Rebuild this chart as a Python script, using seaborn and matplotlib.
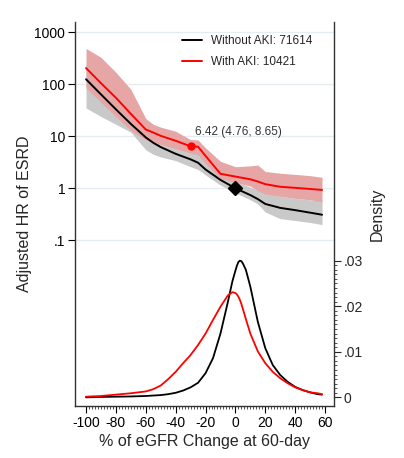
import numpy as np
import pandas as pd
import seaborn as sns
import matplotlib
matplotlib.use("Agg")
import matplotlib.pyplot as plt
from matplotlib.ticker import FixedLocator
from matplotlib.lines import Line2D

# hazard ratio curves
hr_x = [-100, -90, -80, -70, -60, -55, -50, -40, -30, -25, -20, -10, 0, 10, 15, 20, 30, 40, 50, 58]
hr_no_aki = [125, 64, 33, 17.3, 9.5, 7.5, 6.2, 4.6, 3.6, 3.1, 2.3, 1.45, 1.0, 0.74, 0.62, 0.5, 0.42, 0.38, 0.34, 0.31]
hr_no_aki_lo = [35, 24, 17, 12, 5.5, 4.5, 4.0, 3.4, 2.6, 2.3, 1.8, 1.15, 0.82, 0.6, 0.5, 0.35, 0.26, 0.24, 0.22, 0.2]
hr_no_aki_hi = [250, 130, 65, 33, 15, 11, 9, 6.5, 5.0, 4.5, 3.5, 2.0, 1.35, 1.05, 0.92, 0.82, 0.7, 0.64, 0.6, 0.57]
hr_aki = [205, 105, 55, 27, 13.5, 11.8, 10.2, 8.2, 6.42, 6.3, 4.2, 1.9, 1.68, 1.49, 1.35, 1.2, 1.07, 1.02, 0.97, 0.93]
hr_aki_lo = [85, 45, 24, 13, 8.5, 7.5, 7.0, 5.8, 4.76, 4.4, 3.0, 1.55, 1.3, 1.1, 0.9, 0.78, 0.7, 0.64, 0.6, 0.55]
hr_aki_hi = [490, 330, 170, 80, 22, 17, 15, 12.5, 8.65, 8.5, 6.0, 3.3, 2.6, 2.7, 2.8, 2.1, 1.95, 1.85, 1.75, 1.63]

# density of eGFR change
dens_x = [-100, -90, -80, -70, -60, -55, -50, -45, -40, -35, -30, -25, -20, -15, -10, -5, -2, 0, 1, 2, 3, 4, 5, 7,
          10, 15, 20, 25, 30, 35, 40, 45, 50, 55, 58]
dens_no_aki = [0.0, 0.0001, 0.00015, 0.0002, 0.0003, 0.0004, 0.0005, 0.0007, 0.001, 0.0015, 0.0022, 0.0032, 0.0053, 0.0086,
               0.014, 0.021, 0.0255, 0.0278, 0.0289, 0.0297, 0.030, 0.0299, 0.0294, 0.028,
               0.0243, 0.0166, 0.0108, 0.0071, 0.0049, 0.0034, 0.0023, 0.0016, 0.0011, 0.0007, 0.0006]
dens_aki = [0.00015, 0.0003, 0.0006, 0.0009, 0.0013, 0.0018, 0.0026, 0.004, 0.0056, 0.0075, 0.0093, 0.0115, 0.014, 0.017,
            0.0199, 0.0224, 0.0231, 0.0229, 0.0226, 0.0221, 0.0214, 0.0205, 0.0194, 0.0172,
            0.014, 0.0101, 0.0075, 0.0056, 0.0042, 0.0031, 0.0022, 0.0016, 0.0011, 0.0009, 0.0007]

labels = ["Without AKI: 71614", "With AKI: 10421"]
hr_ticks = [0.1, 1, 10, 100, 1000]
hr_ticklabels = [".1", "1", "10", "100", "1000"]
dens_ticks = [0, 0.01, 0.02, 0.03]
dens_ticklabels = ["0", ".01", ".02", ".03"]
x_ticks = [-100, -80, -60, -40, -20, 0, 20, 40, 60]

sns.set_style("white")
plt.rcParams['font.family'] = ['Liberation Sans', 'DejaVu Sans']

fig = plt.figure(figsize=(4.04, 4.58), dpi=100)
ax = fig.add_axes([0.1856, 0.1135, 0.6411, 0.8385])
ax2 = ax.twinx()

df = pd.DataFrame({"x": hr_x, "no": hr_no_aki, "no_lo": hr_no_aki_lo, "no_hi": hr_no_aki_hi,
                   "aki": hr_aki, "aki_lo": hr_aki_lo, "aki_hi": hr_aki_hi})
dd = pd.DataFrame({"x": dens_x, "no": dens_no_aki, "aki": dens_aki})

ax.set_yscale("log")
for t in hr_ticks:
    ax.axhline(t, color="#e6edf1", lw=1, zorder=0)
ax.fill_between(df["x"], df["no_lo"], df["no_hi"], color="#c9c9c9", lw=0, zorder=1)
ax.fill_between(df["x"], df["aki_lo"], df["aki_hi"], color="#e6a6a6", lw=0, zorder=2)
sns.lineplot(data=df, x="x", y="no", ax=ax, color="black", lw=1.4, zorder=3)
sns.lineplot(data=df, x="x", y="aki", ax=ax, color="red", lw=1.4, zorder=4)
ax.plot(-30, 6.42, "o", color="red", ms=5, zorder=5)
ax.plot(0, 1.0, "D", color="black", ms=7, zorder=5)
ax.text(-27, 12.1, "6.42 (4.76, 8.65)", fontsize=8.5, va="center", ha="left", color="#333333")

ax.set_xlim(-107.4, 66)
ax.set_ylim(6.5e-5, 1578)
ax.set_yticks(hr_ticks)
ax.set_yticklabels(hr_ticklabels, fontsize=10)
ax.yaxis.set_minor_locator(FixedLocator([]))
ax.set_xticks(x_ticks)
ax.set_xticklabels([str(v) for v in x_ticks], fontsize=10)
ax.xaxis.set_minor_locator(FixedLocator(np.arange(-100, 61, 2)))
ax.tick_params(axis="both", which="major", direction="out", length=5, width=0.8, pad=2,
               colors="black", bottom=True, left=True)
ax.tick_params(axis="x", which="minor", direction="out", length=2.5, width=0.6, bottom=True, color="#333333")
ax.tick_params(axis="y", which="minor", length=0)
ax.set_xlabel("% of eGFR Change at 60-day", fontsize=11.5, labelpad=3)
ax.set_ylabel("Adjusted HR of ESRD", fontsize=11.5, labelpad=2)

sns.lineplot(data=dd, x="x", y="no", ax=ax2, color="black", lw=1.3)
sns.lineplot(data=dd, x="x", y="aki", ax=ax2, color="red", lw=1.3)
ax2.set_ylim(-0.0019, 0.0824)
ax2.set_yticks(dens_ticks)
ax2.set_yticklabels(dens_ticklabels, fontsize=10)
ax2.yaxis.set_minor_locator(FixedLocator(np.arange(0, 0.0305, 0.001)))
ax2.tick_params(axis="y", which="major", direction="out", length=5, width=0.8, pad=2, right=True, left=False)
ax2.tick_params(axis="y", which="minor", direction="out", length=2.5, width=0.6, right=True, left=False,
                color="#333333")
ax2.set_ylabel("Density", fontsize=11.5, labelpad=5)
ax2.set_xlabel("")

for a in (ax, ax2):
    a.spines["top"].set_visible(False)
    for s in a.spines.values():
        s.set_color("#333333")
        s.set_linewidth(1.0)
ax.spines["right"].set_visible(False)
ax2.spines["left"].set_visible(False)
ax2.spines["bottom"].set_visible(False)

handles = [Line2D([0], [0], color="black", lw=1.4), Line2D([0], [0], color="red", lw=1.4)]
ax2.legend(handles, labels, loc="upper left", bbox_to_anchor=(0.413, 0.966), frameon=False, fontsize=8.5,
           borderaxespad=0, borderpad=0, handlelength=1.7, handletextpad=0.75, labelspacing=0.8)

fig.savefig("out.png", dpi=100)
